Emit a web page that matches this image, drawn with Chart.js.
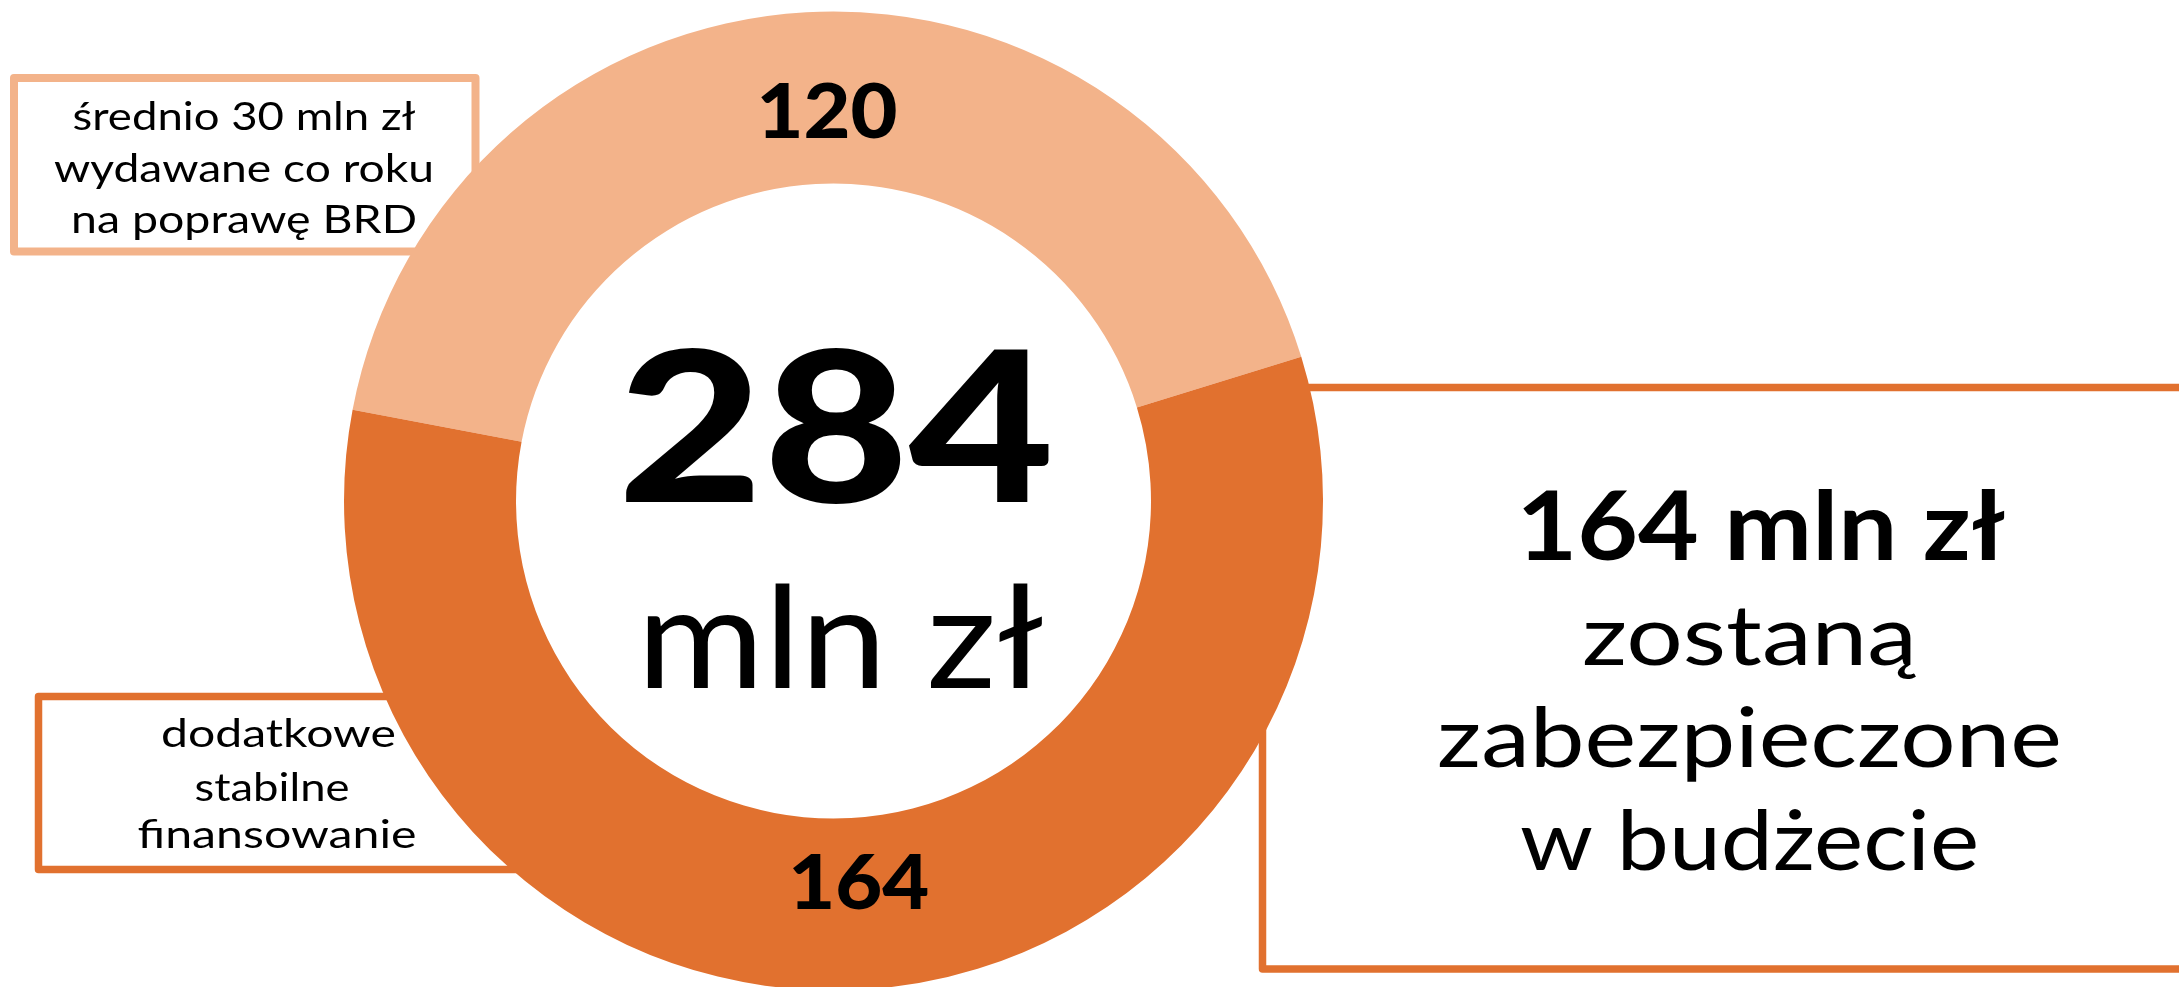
<!DOCTYPE html>
<html>
<head>
<meta charset="utf-8">
<script src="https://cdn.jsdelivr.net/npm/chart.js@4.4.1/dist/chart.umd.min.js"></script>
<style>
    html, body { margin: 0; padding: 0; background: #fff; overflow: hidden; }
    #budgetChart { display: block; }
</style>
</head>
<body>
<canvas id="budgetChart" width="2179" height="1000"></canvas>
<script>
// values in mln zł
var categories = ["średnio 30 mln zł wydawane co roku na poprawę BRD", "dodatkowe stabilne finansowanie"];
var values = [120, 164];
var sliceColors = ["#F3B38A", "#E1712F"];
var unitLabel = "mln zł";

var boxLeftTop = ["średnio 30 mln zł", "wydawane co roku", "na poprawę BRD"];
var boxLeftBottom = ["dodatkowe", "stabilne", "finansowanie"];
var boxRight = ["zostaną", "zabezpieczone", "w budżecie"];

var total = values.reduce(function(a, b) { return a + b; }, 0);
var FONT = "Lato, 'Open Sans', sans-serif";

function fitText(ctx, str, cx, baseline, font, width) {
    ctx.font = font;
    var sx = width / ctx.measureText(str).width;
    ctx.save();
    ctx.translate(cx, baseline);
    ctx.scale(sx, 1);
    ctx.textAlign = "center";
    ctx.textBaseline = "alphabetic";
    ctx.fillStyle = "#000";
    ctx.fillText(str, 0, 0);
    ctx.restore();
}

function strokeBox(ctx, x, y, w, h, lw, color) {
    ctx.save();
    ctx.strokeStyle = color;
    ctx.lineWidth = lw;
    ctx.lineJoin = "round";
    ctx.strokeRect(x, y, w, h);
    ctx.restore();
}

var calloutPlugin = {
    id: "callouts",
    beforeDatasetsDraw: function(chart) {
        var ctx = chart.ctx;
        strokeBox(ctx, 14, 78, 461.5, 173.5, 8, sliceColors[0]);
        strokeBox(ctx, 38.5, 696.5, 520, 173, 7.5, sliceColors[1]);
        strokeBox(ctx, 1262.5, 387.5, 1000, 581.5, 7.5, sliceColors[1]);
    },
    afterDatasetsDraw: function(chart) {
        var ctx = chart.ctx;
        var arcs = chart.getDatasetMeta(0).data;
        var cx = arcs[0].x, cy = arcs[0].y;
        var mid = (arcs[0].innerRadius + arcs[0].outerRadius) / 2;

        // slice values inside the ring
        var labelSpots = [{ angle: -0.95, r: mid - 13 }, { angle: 176.2, r: mid - 22 }];
        values.forEach(function(v, i) {
            var a = labelSpots[i].angle * Math.PI / 180;
            var x = cx + labelSpots[i].r * Math.sin(a);
            var y = cy - labelSpots[i].r * Math.cos(a);
            fitText(ctx, String(v), x, y + 27.5, "900 77px " + FONT, 141);
        });

        // total in the hole
        fitText(ctx, String(total), cx + 2.5, cy + 1, "900 210px " + FONT, 437);
        fitText(ctx, unitLabel, cx + 7, cy + 187, "400 142px " + FONT, 407);

        // left top box
        var w1 = [343, 380, 346];
        boxLeftTop.forEach(function(t, i) {
            fitText(ctx, t, 244, 130 + i * 51.5, "400 39px " + FONT, w1[i]);
        });

        // left bottom box
        var w2 = [235, 155, 279];
        var b2 = [747, 800.5, 848];
        var c2 = [278.5, 272, 277];
        boxLeftBottom.forEach(function(t, i) {
            fitText(ctx, t, c2[i], b2[i], "400 39px " + FONT, w2[i]);
        });

        // right box
        fitText(ctx, values[1] + " " + unitLabel, 1761, 560, "700 95px " + FONT, 489);
        var w3 = [335, 625, 459];
        var b3 = [665, 767, 870];
        boxRight.forEach(function(t, i) {
            fitText(ctx, t, 1749.5, b3[i], "400 84px " + FONT, w3[i]);
        });
    }
};

var budgetChart = new Chart(document.getElementById("budgetChart"), {
    type: "doughnut",
    data: {
        labels: categories,
        datasets: [{
            data: values,
            backgroundColor: sliceColors,
            borderWidth: 0
        }]
    },
    options: {
        responsive: false,
        animation: false,
        rotation: -79.25,
        cutout: "64.86%",
        layout: { padding: { left: 344, right: 856, top: 11.5, bottom: 9.5 } },
        plugins: {
            legend: { display: false },
            tooltip: { enabled: false }
        }
    },
    plugins: [calloutPlugin]
});
</script>
</body>
</html>
